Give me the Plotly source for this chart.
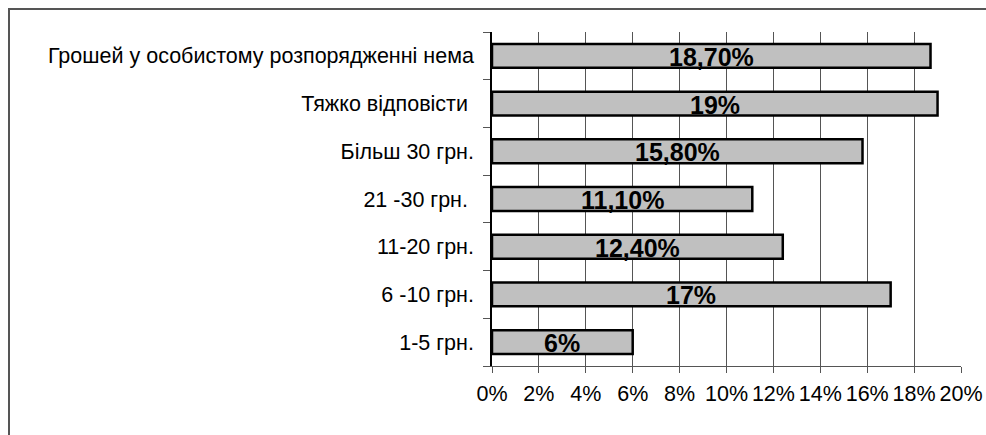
import plotly.graph_objects as go

categories = ["1-5 грн.", "6 -10 грн.", "11-20 грн.", "21 -30 грн.\u00a0",
              "Більш 30 грн.", "Тяжко відповісти\u00a0", "Грошей у особистому розпорядженні нема"]
values = [6, 17, 12.4, 11.1, 15.8, 19, 18.7]
value_labels = ["6%", "17%", "12,40%", "11,10%", "15,80%", "19%", "18,70%"]
tick_vals = [0, 2, 4, 6, 8, 10, 12, 14, 16, 18, 20]
tick_text = [f"{v}%" for v in tick_vals]

W, H = 986, 435
L, R, T, B = 492, 961, 32, 366

fig = go.Figure()
fig.add_trace(go.Bar(
    y=categories, x=values, orientation="h",
    marker=dict(color="#c0c0c0", line=dict(color="black", width=2.5)),
    hoverinfo="skip",
))

for c, v, t in zip(categories, values, value_labels):
    fig.add_annotation(x=v / 2, y=c, xref="x", yref="y", text=f"<b>{t}</b>",
                       showarrow=False, yshift=-1,
                       font=dict(family="Liberation Sans, Arial", size=25, color="black"))

def px2x(px):
    return (px - L) / (R - L)

def py2y(py):
    return (B - py) / (B - T)

fig.add_shape(type="rect", xref="paper", yref="paper",
              x0=px2x(9), x1=px2x(1100), y0=py2y(9), y1=py2y(600),
              line=dict(color="#555555", width=2), fillcolor="rgba(0,0,0,0)", layer="above")

fig.update_layout(
    width=W, height=H,
    margin=dict(l=L, r=W - R, t=T, b=H - B, pad=0, autoexpand=False),
    paper_bgcolor="white", plot_bgcolor="white",
    showlegend=False, bargap=0.5,
    font=dict(family="Liberation Sans, Arial", size=21.5, color="black"),
    xaxis=dict(range=[0, 20], tickvals=tick_vals, ticktext=tick_text,
               showgrid=True, gridcolor="#555555", gridwidth=1,
               showline=True, linecolor="#555555", linewidth=1,
               ticks="outside", ticklen=6, tickcolor="#555555",
               ticklabelstandoff=2, automargin=False,
               zeroline=False, fixedrange=True),
    yaxis=dict(type="category", categoryorder="array", categoryarray=categories,
               showgrid=False, showline=True, linecolor="black", linewidth=1.5,
               ticks="outside", ticklen=7, tickcolor="#555555", tickson="boundaries",
               ticklabelstandoff=12, automargin=False, fixedrange=True),
)

fig.write_html("out.html")
